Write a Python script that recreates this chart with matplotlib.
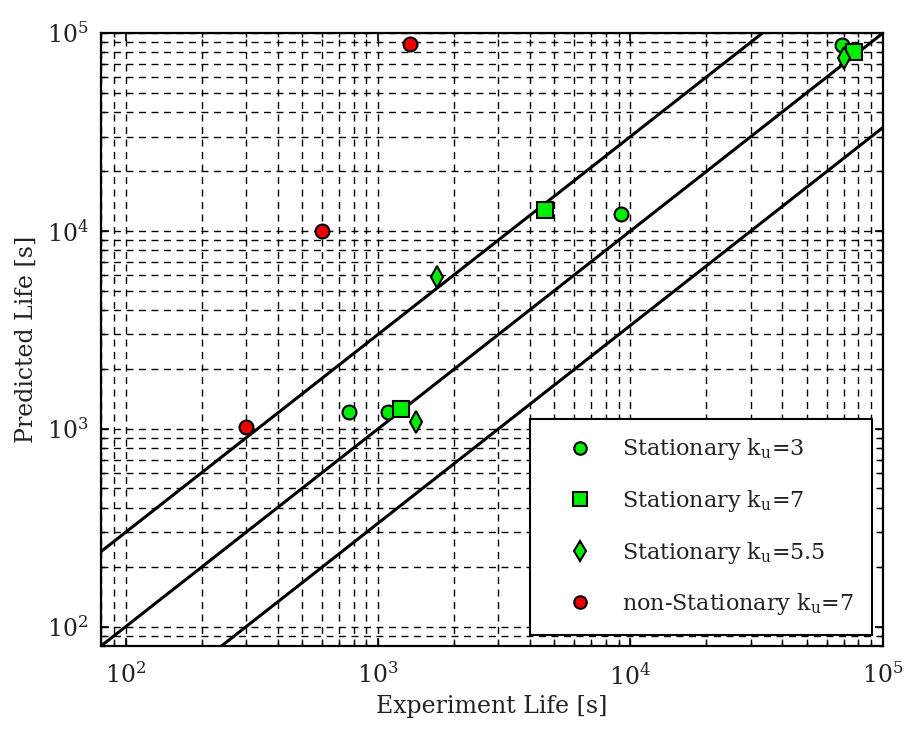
import numpy as np
import matplotlib.pyplot as plt

plt.rcParams['font.family'] = ['DejaVu Serif']
plt.rcParams['mathtext.fontset'] = 'dejavuserif'

# experiment life vs predicted life [s]
circ_exp = [767, 1100, 9200, 68900]
circ_pred = [1220, 1220, 12200, 87000]

sq_exp = [1235, 4570, 76700]
sq_pred = [1260, 12800, 80300]

dia_exp = [1710, 1415, 70000]
dia_pred = [5870, 1085, 74800]

ns_exp = [300, 600, 1340]
ns_pred = [1020, 10000, 88500]

# scatter band factors
band = [3.0, 1.0, 1.0 / 3.0]
lims = [80, 1e5]

fig = plt.figure(figsize=(9.07, 7.29), dpi=100)
ax = fig.add_axes([0.1114, 0.1139, 0.8621, 0.8408])

ax.set_xscale('log')
ax.set_yscale('log')
ax.set_xlim(lims)
ax.set_ylim(lims)

ax.grid(True, which='both', color='black', linestyle=(0, (5, 4)), linewidth=1.0)
ax.set_axisbelow(True)

xx = np.array(lims)
for f in band:
    ax.plot(xx, f * xx, color='black', linewidth=2.2, zorder=2)

mk = dict(linestyle='none', markeredgecolor='black', markeredgewidth=1.5, zorder=3)
ax.plot(circ_exp, circ_pred, marker='o', markersize=10, color='#00ee00',
        label=r'Stationary k$_{\mathrm{u}}$=3', **mk)
ax.plot(sq_exp, sq_pred, marker='s', markersize=11, color='#00ee00',
        label=r'Stationary k$_{\mathrm{u}}$=7', **mk)
ax.plot(dia_exp, dia_pred, marker='d', markersize=11, color='#00ee00',
        label=r'Stationary k$_{\mathrm{u}}$=5.5', **mk)
ax.plot(ns_exp, ns_pred, marker='o', markersize=10, color='#ee0000',
        label=r'non-Stationary k$_{\mathrm{u}}$=7', **mk)

ax.tick_params(which='both', direction='in', top=True, right=True, colors='black',
               labelsize=17, labelcolor='#222222')
ax.tick_params(which='major', length=6, width=1.2, pad=9)
ax.tick_params(which='minor', length=3, width=1.0)
ax.tick_params(axis='x', which='major', pad=12)

for s in ax.spines.values():
    s.set_linewidth(1.6)
    s.set_color('black')

ax.set_xlabel('Experiment Life [s]', fontsize=17, color='#222222', labelpad=4)
ax.set_ylabel('Predicted Life [s]', fontsize=17, color='#222222', labelpad=6)

leg = ax.legend(loc='lower right', fontsize=16, frameon=True, fancybox=False,
                edgecolor='black', framealpha=1.0, borderpad=0.8, labelspacing=1.15,
                handlelength=2.9, handletextpad=0.45, borderaxespad=0.5,
                numpoints=1, markerscale=0.9)
leg.get_frame().set_linewidth(1.5)
for t in leg.get_texts():
    t.set_color('#222222')

fig.savefig('out.png', dpi=100)
